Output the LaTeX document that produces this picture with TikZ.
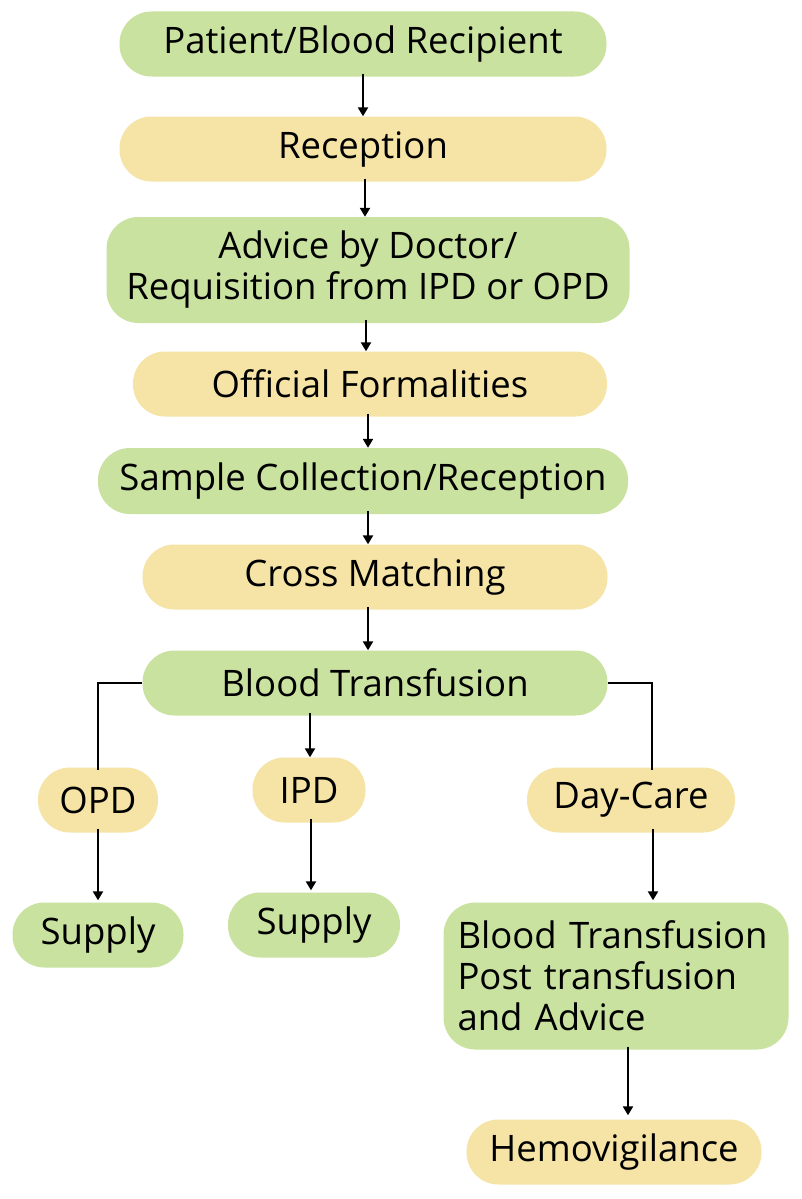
\documentclass[tikz,border=0pt]{standalone}
\usepackage{fontspec}
\setmainfont{Open Sans}
\usetikzlibrary{arrows.meta}
\definecolor{boxgreen}{RGB}{201,226,160}
\definecolor{boxyellow}{RGB}{245,228,166}
\begin{document}
\begin{tikzpicture}[x=1pt,y=-1pt,
  box/.style={rounded corners=32pt, inner sep=0pt, font=\fontsize{36.5}{41}\selectfont, align=center},
  gbox/.style={box, fill=boxgreen},
  ybox/.style={box, fill=boxyellow},
  arr/.style={line width=2.6pt, -{Triangle[width=10pt,length=9pt]}},
  ln/.style={line width=2.6pt}]
\useasboundingbox[fill=white] (0,0) rectangle (802,1199);
\node[gbox, minimum width=487pt, minimum height=65pt] (n1) at (363,44) {Patient/Blood Recipient};
\node[ybox, minimum width=487pt, minimum height=65pt] (n2) at (363,149) {Reception};
\node[gbox, minimum width=523pt, minimum height=106pt] (n3) at (368,270) {Advice by Doctor/\\Requisition from IPD or OPD};
\node[ybox, minimum width=474pt, minimum height=65pt] (n4) at (370,384) {Official Formalities};
\node[gbox, minimum width=530pt, minimum height=66pt] (n5) at (363,481) {Sample Collection/Reception};
\node[ybox, minimum width=465pt, minimum height=65pt] (n6) at (375,577) {Cross Matching};
\node[gbox, minimum width=465pt, minimum height=65pt] (n7) at (375,683) {Blood Transfusion};
\node[ybox, minimum width=120pt, minimum height=65pt] (opd) at (98,800) {OPD};
\node[ybox, minimum width=113pt, minimum height=65pt] (ipd) at (309,790) {IPD};
\node[ybox, minimum width=208pt, minimum height=65pt] (day) at (631,800) {Day-Care};
\node[gbox, minimum width=171pt, minimum height=65pt] (s1) at (98,935) {Supply};
\node[gbox, minimum width=172pt, minimum height=65pt] (s2) at (314,925) {Supply};
\node[gbox, minimum width=345pt, minimum height=147pt, text width=317pt, align=left] (bt) at (616,976) {Blood Transfusion\\Post transfusion\\and Advice};
\node[ybox, minimum width=295pt, minimum height=65pt] (hv) at (614,1152) {Hemovigilance};
% main chain
\draw[arr] ([yshift=3pt]n1.south) -- (n2.north);
\draw[arr] ([xshift=2pt,yshift=3pt]n2.south) -- ([xshift=-3pt]n3.north);
\draw[arr] ([xshift=-2pt,yshift=3pt]n3.south) -- ([xshift=-4pt]n4.north);
\draw[arr] ([xshift=-2pt,yshift=3pt]n4.south) -- ([xshift=5pt]n5.north);
\draw[arr] ([xshift=5pt,yshift=3pt]n5.south) -- ([xshift=-7pt]n6.north);
\draw[arr] ([xshift=-7pt,yshift=3pt]n6.south) -- ([xshift=-7pt]n7.north);
% branches
\draw[ln] (n7.west) -| ([yshift=-3pt]opd.north);
\draw[ln] (n7.east) -| ([xshift=21pt,yshift=-3pt]day.north);
\draw[arr] ([xshift=-65pt,yshift=3pt]n7.south) -- ([xshift=1pt]ipd.north);
\draw[arr] ([yshift=4pt]opd.south) -- ([yshift=2pt]s1.north);
\draw[arr] ([xshift=2pt,yshift=4pt]ipd.south) -- ([xshift=-3pt,yshift=2pt]s2.north);
\draw[arr] ([xshift=22pt,yshift=4pt]day.south) -- ([xshift=37pt,yshift=2pt]bt.north);
\draw[arr] ([xshift=12pt,yshift=3pt]bt.south) -- ([xshift=14pt,yshift=4pt]hv.north);
\end{tikzpicture}
\end{document}
